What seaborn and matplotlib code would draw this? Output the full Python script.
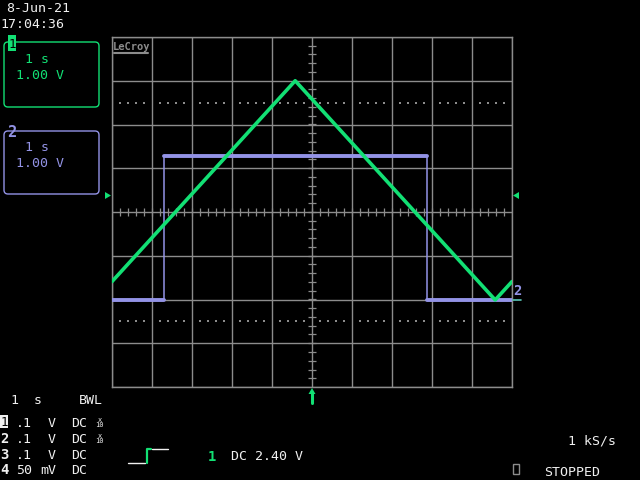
import numpy as np
import matplotlib
matplotlib.use('Agg')
import matplotlib.pyplot as plt
import seaborn as sns
from matplotlib.transforms import Affine2D
from matplotlib.patches import FancyBboxPatch, Rectangle, Polygon
from matplotlib.collections import LineCollection
from matplotlib.lines import Line2D

# ---------------- data (1 s/div, 1 V/div) ----------------
ch1_time = [0.0, 4.58, 9.58, 10.0]
ch1_volts = [-1.59, 3.0, -2.01, -1.59]
ch2_time = [0.0, 1.30, 1.30, 7.88, 7.88, 10.0]
ch2_volts = [-2.02, -2.02, 1.29, 1.29, -2.02, -2.02]

date_text = "8-Jun-21"
time_text = "17:04:36"
ch_labels = ["1", "2", "3", "4"]
ch_scale = [".1", ".1", ".1", "50"]
ch_unit = ["V", "V", "V", "mV"]
ch_coupling = ["DC", "DC", "DC", "DC"]
ch_probe = ["x\n10", "x\n10", "", ""]

GREEN = "#12e074"
BLUE = "#9393e6"
GRAY = "#8c8c8c"
WHITE = "#f0f0f0"

sns.set_style("dark", {"axes.facecolor": "black", "figure.facecolor": "black"})
plt.rcParams["font.family"] = ["DejaVu Sans Mono", "DejaVu Sans"]

fig = plt.figure(figsize=(6.4, 4.8), dpi=100)
fig.patch.set_facecolor("black")
pix = Affine2D().scale(1 / 640, -1 / 480).translate(0, 1) + fig.transFigure

ax = fig.add_axes([112 / 640, (480 - 387) / 480, 400 / 640, 350 / 480])
ax.set_facecolor("black")
ax.set_xlim(0, 10)
ax.set_ylim(-4, 4)
ax.set_xticks(range(11))
ax.set_yticks(range(-4, 5))
ax.tick_params(length=0, labelbottom=False, labelleft=False)
ax.grid(True, color=GRAY, lw=1.0)
ax.set_axisbelow(True)
for s in ax.spines.values():
    s.set_color(GRAY)
    s.set_linewidth(1.0)

# centre-cross minor ticks
segs = []
for xv in np.arange(0.2, 10.0, 0.2):
    segs.append([(xv, -0.09), (xv, 0.09)])
for yv in np.arange(-3.8, 4.0, 0.2):
    segs.append([(4.9, yv), (5.1, yv)])
ax.add_collection(LineCollection(segs, colors=GRAY, linewidths=0.9, zorder=1))
# dotted markers at +/-2.5 div
dx = [x for x in np.arange(0.2, 10.0, 0.2) if abs(x - round(x)) > 0.05]
for yv in (2.5, -2.5):
    ax.scatter(dx, [yv] * len(dx), marker="s", s=0.7, color=GRAY, linewidths=0, zorder=1)

# traces
sns.lineplot(x=ch2_time, y=ch2_volts, sort=False, estimator=None, color=BLUE,
             lw=1.1, ax=ax, zorder=3)
for i in range(len(ch2_time) - 1):
    if ch2_volts[i] == ch2_volts[i + 1]:
        sns.lineplot(x=ch2_time[i:i + 2], y=ch2_volts[i:i + 2], estimator=None,
                     color=BLUE, lw=2.8, ax=ax, zorder=3)
sns.lineplot(x=ch1_time, y=ch1_volts, sort=False, estimator=None, color=GREEN,
             lw=2.6, ax=ax, zorder=4)
ax.set_xlabel("")
ax.set_ylabel("")

# ---------------- annotations (pixel coordinates) ----------------
def T(x, y, s, color=WHITE, size=9.5, weight="normal", **kw):
    fig.text(x, y, s, transform=pix, color=color, fontsize=size, weight=weight,
             ha=kw.pop("ha", "left"), va=kw.pop("va", "baseline"), **kw)

T(6, 12, date_text)
T(0, 28, time_text)

# channel 1 box
fig.patches.append(FancyBboxPatch((4, 42), 95, 65, boxstyle="round,pad=0,rounding_size=4",
                                  transform=pix, fill=False, ec=GREEN, lw=1.0))
fig.patches.append(Rectangle((8, 35), 8, 16, transform=pix, fc=GREEN, ec="none"))
T(12, 48, "1", color="black", size=9, ha="center")
T(25, 63, "1 s", color=GREEN)
T(16, 79, "1.00 V", color=GREEN)

# channel 2 box
fig.patches.append(FancyBboxPatch((4, 131), 95, 63, boxstyle="round,pad=0,rounding_size=4",
                                  transform=pix, fill=False, ec=BLUE, lw=1.0))
T(11.5, 137, "2", color=BLUE, size=11, weight="bold", ha="center")
T(25, 151, "1 s", color=BLUE)
T(16, 167, "1.00 V", color=BLUE)

# LeCroy logo
T(113, 50, "LeCroy", color=GRAY, size=7.5, weight="bold")
fig.lines.append(Line2D([114, 148], [53, 53], transform=pix, color=GRAY, lw=1.5))

# markers
fig.patches.append(Polygon([(105, 192), (105, 199), (111, 195.5)], closed=True,
                           transform=pix, fc=GREEN, ec="none"))
fig.patches.append(Polygon([(519, 192), (519, 199), (513, 195.5)], closed=True,
                           transform=pix, fc=GREEN, ec="none"))
T(517, 295, "2", color=BLUE, size=10, weight="bold", ha="center")
fig.lines.append(Line2D([513, 521], [299.5, 299.5], transform=pix, color="#5cc8b8", lw=1.2))
fig.patches.append(Polygon([(308.5, 394), (315.5, 394), (312, 388)], closed=True,
                           transform=pix, fc=GREEN, ec="none"))
fig.lines.append(Line2D([312, 312], [393, 403], transform=pix, color=GREEN, lw=2.2))

# bottom-left channel table
T(10, 404, "1")
T(34, 404, "s")
T(79, 404, "BWL")
baselines = [427, 443, 459, 474]
for i, yb in enumerate(baselines):
    if i == 0:
        fig.patches.append(Rectangle((0, 415), 8, 13, transform=pix, fc=WHITE, ec="none"))
        T(4, yb - 1, ch_labels[i], color="black", size=9, ha="center")
    else:
        T(4, yb, ch_labels[i], size=10, weight="bold", ha="center")
    T(16, yb, ch_scale[i])
    T(56, yb, ch_unit[i], ha="right")
    T(71, yb, ch_coupling[i])
    if ch_probe[i]:
        T(99.5, yb, ch_probe[i], size=5, ha="center", linespacing=0.9)

# trigger section
fig.lines.append(Line2D([128, 145], [463, 463], transform=pix, color=WHITE, lw=1.0))
fig.lines.append(Line2D([147, 147, 151], [463, 449, 449], transform=pix, color=GREEN, lw=1.6))
fig.lines.append(Line2D([152, 168], [449, 449], transform=pix, color=WHITE, lw=1.0))
T(211.5, 461, "1", color=GREEN, size=10, weight="bold", ha="center")
T(231, 460, "DC 2.40 V")

T(568, 444, "1 kS/s")
fig.patches.append(Rectangle((513, 464), 6, 10, transform=pix, fill=False, ec=GRAY, lw=1.0))
T(544, 476, "STOPPED")

fig.savefig("out.png", dpi=100, facecolor="black")
